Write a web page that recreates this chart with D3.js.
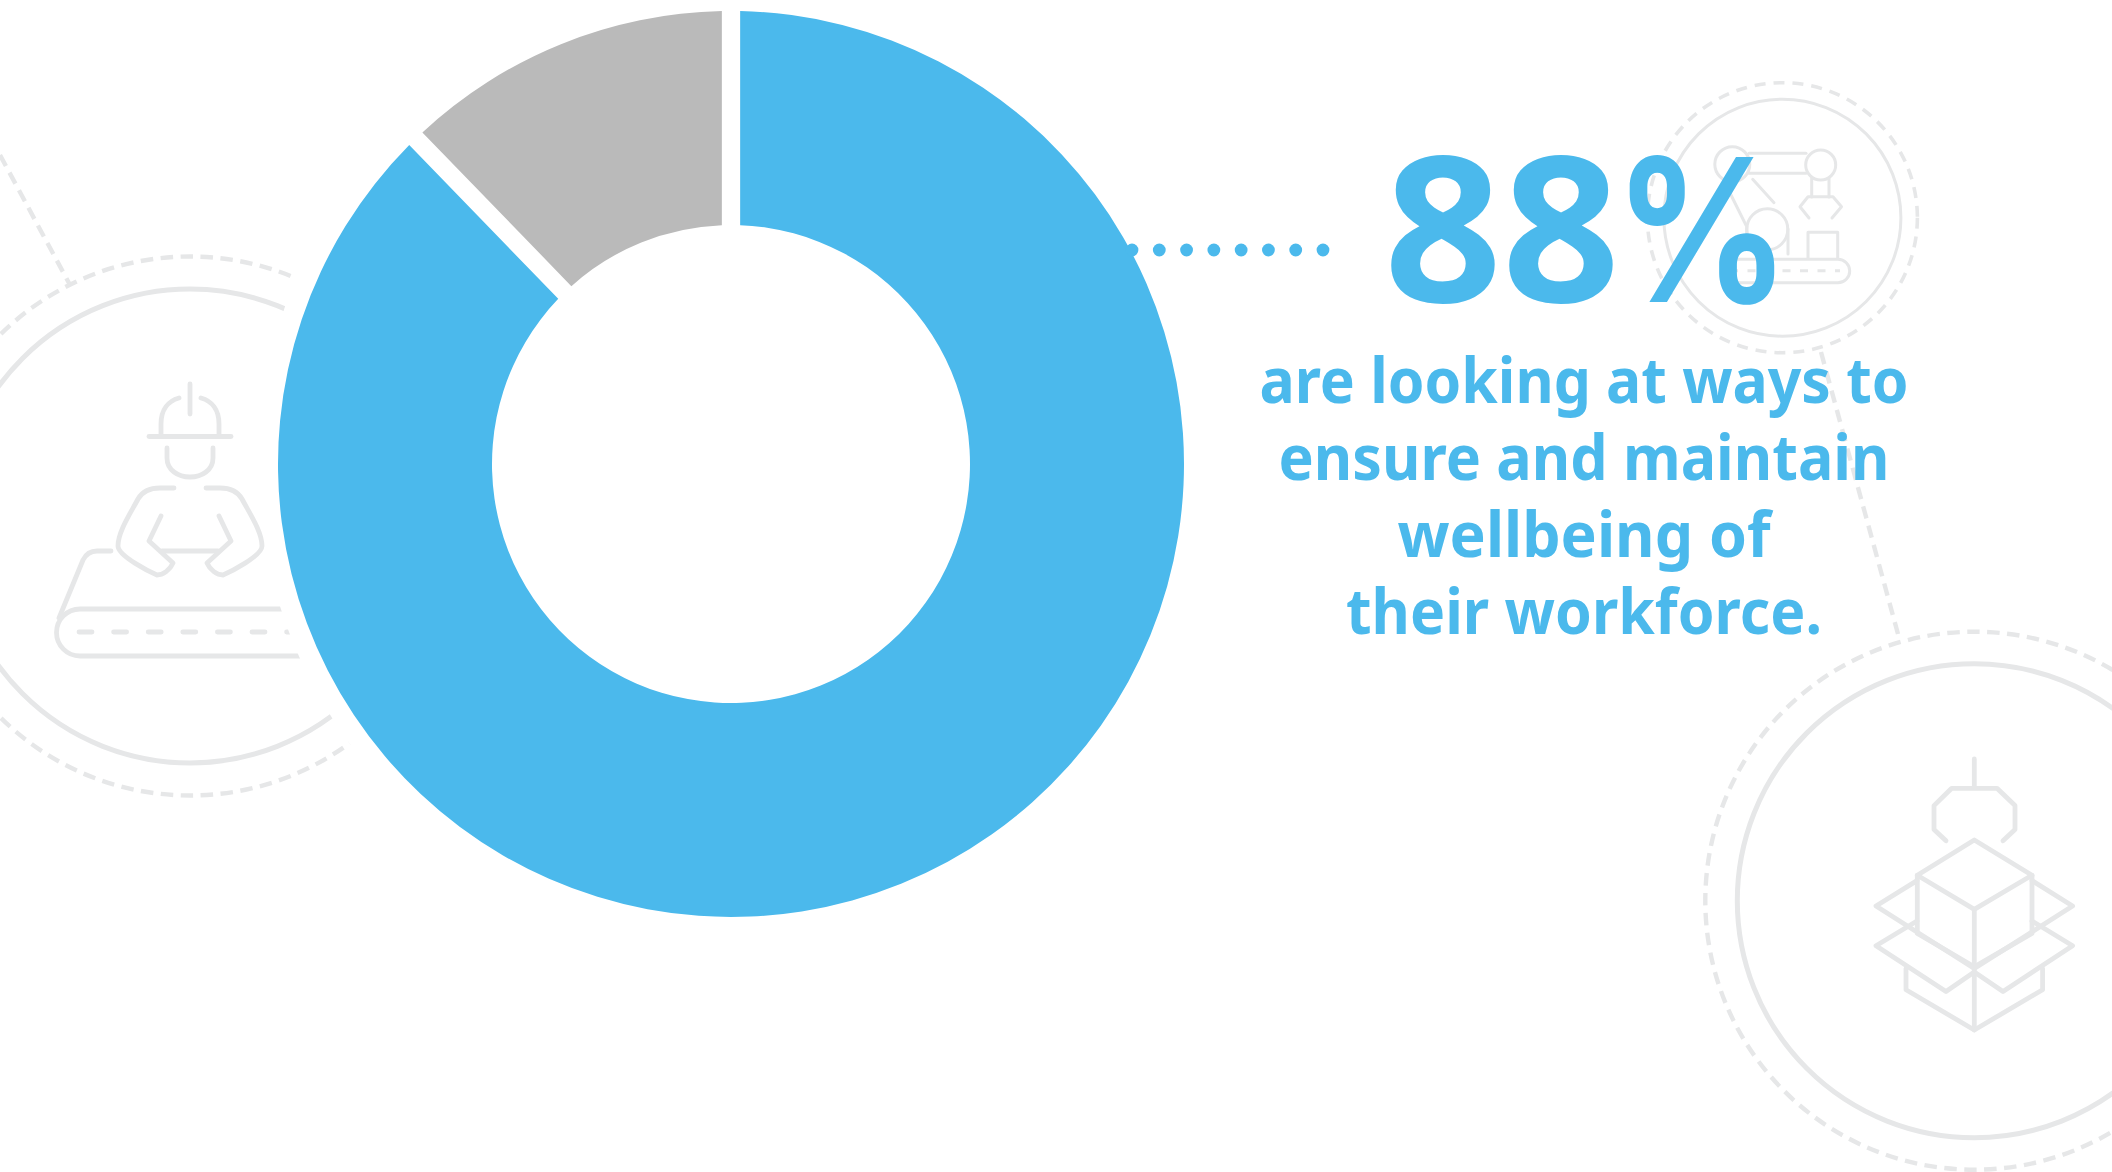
<!DOCTYPE html>
<html>
<head>
<meta charset="utf-8">
<title>88% wellbeing donut</title>
<script src="https://d3js.org/d3.v7.min.js"></script>
<style>
    html, body { margin: 0; padding: 0; background: #fff; }
    svg { display: block; }
</style>
</head>
<body>
<div id="chart"></div>
<script>
// Chart values (the grey slice spans about 44 degrees)
const segments = ["Looking at wellbeing", "Other"];
const segmentValues = [87.75, 12.25];
const segmentColors = ["#4BB9EC", "#BABABA"];
const headlineValue = "88";
const headlineUnit = "%";
const captionLines = [
    "are looking at ways to",
    "ensure and maintain",
    "wellbeing of",
    "their workforce."
];
const captionWidths = [649, 611, 373, 476];
const leaderDots = [0, 1, 2, 3, 4, 5, 6, 7];

const width = 2112, height = 1172;
const blue = segmentColors[0];
const iconGrey = "#E6E7E8";

const svg = d3.select("#chart")
    .append("svg")
    .attr("width", width)
    .attr("height", height);

// Background icons sit under the white halo of the donut
const icons = svg.append("g")
    .attr("fill", "none")
    .attr("stroke", iconGrey)
    .attr("stroke-linecap", "round")
    .attr("stroke-linejoin", "round");

function ring(parent, cx, cy, r, strokeWidth, dash) {
    parent.append("circle")
        .attr("cx", cx)
        .attr("cy", cy)
        .attr("r", r)
        .attr("stroke-width", strokeWidth)
        .attr("stroke-dasharray", dash)
        .attr("stroke-linecap", dash ? "butt" : null);
}

function strokes(parent, strokeWidth, paths) {
    parent.selectAll(null)
        .data(paths)
        .enter().append("path")
        .attr("d", d => d)
        .attr("stroke-width", strokeWidth);
}

// Dashed connectors between the rings
icons.append("path")
    .attr("d", "M0,155L70,285")
    .attr("stroke-width", 4.4)
    .attr("stroke-dasharray", "12.5 7.5")
    .attr("stroke-linecap", "butt");
icons.append("path")
    .attr("d", "M1821,352L1898,634")
    .attr("stroke-width", 4.4)
    .attr("stroke-dasharray", "12.5 7.5")
    .attr("stroke-linecap", "butt");

// Worker at the conveyor, left
ring(icons, 190, 526, 237, 5);
ring(icons, 190, 526, 269.5, 4.4, "12.5 7.5");
strokes(icons, 4.8, [
    "M190,384V414",
    "M179,398C168,401 161,410 161,424V436",
    "M201,398C212,401 219,410 219,424V436",
    "M149,436.5H231",
    "M167,448V458C167,470 178,477 190,477C202,477 213,470 213,458V448",
    "M174,488H160C150,488 142,492 138,499C130,514 118,532 118,546C118,556 150,572 157,575C163,575 170,570 173,563L149,541L161,516",
    "M206,488H220C230,488 238,492 242,499C250,514 262,532 262,546C262,556 230,572 223,575C217,575 210,570 207,563L231,541L219,516",
    "M162,551H218",
    "M111,551H97C90,551 86,554 83,560L59,618",
    "M300,656H80A23.5,23.5 0 0 1 80,609H282"
]);
icons.append("path")
    .attr("d", "M79,632H300")
    .attr("stroke-width", 4.8)
    .attr("stroke-dasharray", "13 21.6");

// Robot arm, top right
ring(icons, 1782.4, 217.7, 118.5, 3);
ring(icons, 1782.4, 217.7, 135, 3.6, "11 8");
ring(icons, 1732.3, 164.3, 17.5, 3);
ring(icons, 1820.7, 165, 15, 3);
ring(icons, 1767.3, 229.3, 20.5, 3);
strokes(icons, 3, [
    "M1749,153.3H1806",
    "M1749,173.3H1806",
    "M1811.7,178V197",
    "M1829,178V197",
    "M1809,218L1800,206.7L1808,196.7H1833L1841.5,206.7L1832,218",
    "M1752.7,179.3L1774,202.7",
    "M1730,193L1746.7,226.7V240",
    "M1788,229V254",
    "M1808,258V232.3H1837.7V258",
    "M1730,259.3H1838A11.7,11.7 0 0 1 1838,282.7H1730"
]);
icons.append("path")
    .attr("d", "M1730,270.7H1840")
    .attr("stroke-width", 3)
    .attr("stroke-dasharray", "8 9.5")
    .attr("stroke-linecap", "butt");

// Boxed cube under a gripper, bottom right
ring(icons, 1974.3, 900.7, 237, 5);
ring(icons, 1974.3, 900.7, 269, 4.4, "12.5 7.5");
strokes(icons, 4.8, [
    "M1974.3,759V787",
    "M1946,840.8L1934,829.5V805.6L1951.7,788.3H1997L2015,805.6V829.5L2003,840.8",
    "M1974.3,840L1917.3,875.3L1974.3,909.4L2032,875.3Z",
    "M1917.3,875.3V933.4L1974.3,966.8L2032,933.4V875.3",
    "M1974.3,909.4V1030",
    "M1917,880.6L1876,906L1974.3,968.6L2072.6,906L2032,880.6",
    "M1917,921L1876,945.7L1946,991.5L1974.3,972L2003,991.5L2072.6,945.7L2032,921",
    "M1906,968.6V989.7L1974.3,1030L2042.6,989.7V968.6"
]);

// Donut
const donutX = 731, donutY = 464;
const outerRadius = 453, innerRadius = 239;

const pie = d3.pie().sort(null);
const arc = d3.arc()
    .innerRadius(innerRadius)
    .outerRadius(outerRadius)
    .padAngle(0.04)
    .padRadius(457.5);

const donut = svg.append("g")
    .attr("transform", `translate(${donutX},${donutY})`);

donut.append("circle")
    .attr("r", 473)
    .attr("fill", "#fff");

donut.selectAll(".slice")
    .data(pie(segmentValues))
    .enter().append("path")
    .attr("class", "slice")
    .attr("d", arc)
    .attr("fill", (d, i) => segmentColors[i])
    .append("title")
    .text((d, i) => segments[i]);

// Dotted leader towards the headline
const dotScale = d3.scaleLinear()
    .domain([0, 7])
    .range([1132, 1323]);

svg.selectAll(".dot")
    .data(leaderDots)
    .enter().append("circle")
    .attr("class", "dot")
    .attr("cx", d => dotScale(d))
    .attr("cy", 250)
    .attr("r", 6.4)
    .attr("fill", blue);

// Headline number, the unit is set apart so its width can be fitted on its own
svg.append("text")
    .attr("x", 1384)
    .attr("y", 302)
    .attr("font-family", "'Open Sans'")
    .attr("font-weight", 700)
    .attr("font-size", 203)
    .attr("fill", blue)
    .attr("textLength", 236)
    .attr("lengthAdjust", "spacingAndGlyphs")
    .text(headlineValue);

svg.append("text")
    .attr("transform", "translate(1614,302) scale(0.87,1)")
    .attr("font-family", "Inter")
    .attr("font-weight", 700)
    .attr("font-size", 199)
    .attr("fill", blue)
    .text(headlineUnit);

// Caption
svg.selectAll(".caption")
    .data(captionLines)
    .enter().append("text")
    .attr("class", "caption")
    .attr("x", 1584)
    .attr("y", (d, i) => 402.7 + i * 77)
    .attr("text-anchor", "middle")
    .attr("font-family", "'Noto Sans'")
    .attr("font-weight", 700)
    .attr("font-size", 62)
    .attr("fill", blue)
    .attr("textLength", (d, i) => captionWidths[i])
    .attr("lengthAdjust", "spacingAndGlyphs")
    .text(d => d);
</script>
</body>
</html>
